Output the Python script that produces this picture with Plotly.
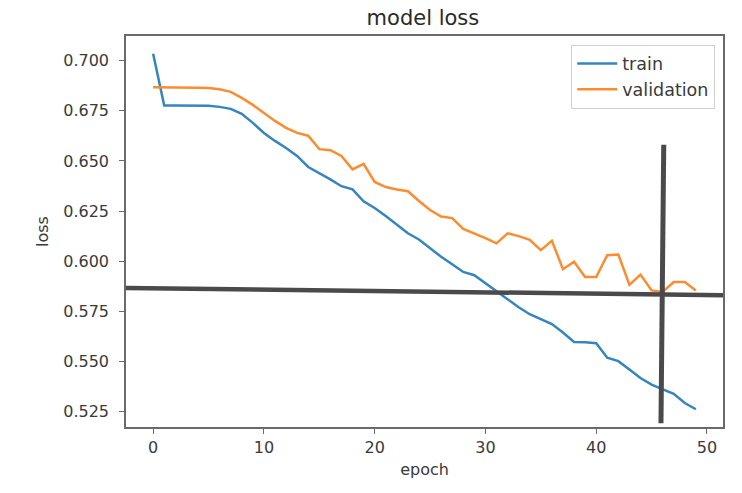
import plotly.graph_objects as go

epochs = list(range(50))

train_loss = [
    0.7035, 0.6777, 0.6777, 0.6777, 0.6776, 0.6775, 0.6770, 0.6760, 0.6735, 0.6690,
    0.6640, 0.6600, 0.6565, 0.6525, 0.6470, 0.6440, 0.6408, 0.6374, 0.6358, 0.6299,
    0.6265, 0.6225, 0.6180, 0.6139, 0.6108, 0.6065, 0.6022, 0.5985, 0.5946, 0.5930,
    0.5890, 0.5850, 0.5812, 0.5770, 0.5735, 0.5711, 0.5686, 0.5644, 0.5597, 0.5595,
    0.5590, 0.5518, 0.5501, 0.5459, 0.5417, 0.5384, 0.5359, 0.5338, 0.5292, 0.5261,
]

val_loss = [
    0.6868, 0.6868, 0.6868, 0.6867, 0.6866, 0.6864, 0.6858, 0.6845, 0.6815, 0.6780,
    0.6740, 0.6700, 0.6665, 0.6640, 0.6626, 0.6559, 0.6554, 0.6525, 0.6458, 0.6486,
    0.6395, 0.6370, 0.6358, 0.6349, 0.6300, 0.6255, 0.6223, 0.6215, 0.6161, 0.6139,
    0.6115, 0.6089, 0.6139, 0.6125, 0.6106, 0.6055, 0.6102, 0.5960, 0.5997, 0.5921,
    0.5921, 0.6030, 0.6033, 0.5882, 0.5933, 0.5854, 0.5846, 0.5896, 0.5896, 0.5854,
]

x_ticks = [0, 10, 20, 30, 40, 50]
y_ticks = [0.525, 0.550, 0.575, 0.600, 0.625, 0.650, 0.675, 0.700]
y_tick_labels = ["0.525", "0.550", "0.575", "0.600", "0.625", "0.650", "0.675", "0.700"]

# hand-drawn marker lines over the plot (data coordinates)
h_line_y = [0.5866, 0.5830]          # left end, right end
v_line_x = [46.1, 45.85]             # top end, bottom end
v_line_y = [0.6581, 0.5191]          # top, bottom

# matplotlib-style 5% margins
x_min, x_max = min(epochs), max(epochs)
xpad = (x_max - x_min) * 0.05
x_range = [x_min - xpad, x_max + xpad]
all_y = train_loss + val_loss
y_min, y_max = min(all_y), max(all_y)
ypad = (y_max - y_min) * 0.05
y_range = [y_min - ypad, y_max + ypad]

font_family = "DejaVu Sans"
text_color = "#3a3a3a"
axis_color = "#6a6a6a"

fig = go.Figure()
fig.add_trace(go.Scatter(x=epochs, y=train_loss, mode="lines", name="train",
                         line=dict(color="#3585c0", width=2.5)))
fig.add_trace(go.Scatter(x=epochs, y=val_loss, mode="lines", name="validation",
                         line=dict(color="#fc8c2e", width=2.5)))

mark_color = "#4a4a4a"
fig.add_shape(type="line", xref="x", yref="y",
              x0=x_range[0], x1=x_range[1], y0=h_line_y[0], y1=h_line_y[1],
              line=dict(color=mark_color, width=4.5), layer="above")
fig.add_shape(type="line", xref="x", yref="y",
              x0=v_line_x[0], x1=v_line_x[1], y0=v_line_y[0], y1=v_line_y[1],
              line=dict(color=mark_color, width=5), layer="above")

fig.update_layout(
    width=742, height=493,
    margin=dict(l=126, r=19, t=36, b=66),
    paper_bgcolor="white", plot_bgcolor="white",
    font=dict(family=font_family, size=16, color=text_color),
    title=dict(text="model loss", x=0.57, xanchor="center", y=0.965, yanchor="middle",
               font=dict(size=21, color="#2a2a2a")),
    showlegend=True,
    legend=dict(x=0.987, xanchor="right", y=0.978, yanchor="top",
                bgcolor="rgba(255,255,255,0.9)", bordercolor="#d0d0d0", borderwidth=1,
                font=dict(size=17.5, color=text_color), tracegroupgap=0,
                itemwidth=40),
)

fig.update_xaxes(range=x_range, tickvals=x_ticks, showgrid=False, zeroline=False,
                 showline=True, mirror=True, linecolor=axis_color, linewidth=1.5,
                 ticks="outside", ticklen=5, tickcolor=axis_color, tickwidth=1.2,
                 tickfont=dict(size=16, color=text_color),
                 title=dict(text="epoch", font=dict(size=16, color=text_color), standoff=8))
fig.update_yaxes(range=y_range, tickvals=y_ticks, ticktext=y_tick_labels,
                 showgrid=False, zeroline=False,
                 showline=True, mirror=True, linecolor=axis_color, linewidth=1.5,
                 ticks="outside", ticklen=5, tickcolor=axis_color, tickwidth=1.2,
                 ticklabelstandoff=7,
                 tickfont=dict(size=16, color=text_color),
                 title=dict(text="loss", font=dict(size=16, color=text_color), standoff=11))

fig.write_html("out.html",
               config={"displayModeBar": False},
               post_script="document.body.style.margin='0';document.body.style.padding='0';")
